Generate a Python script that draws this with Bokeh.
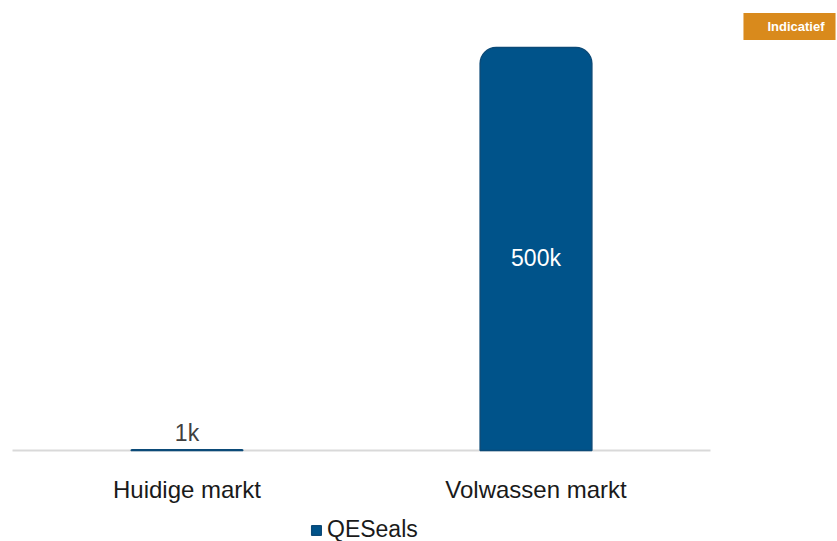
from bokeh.plotting import figure
from bokeh.models import ColumnDataSource, Legend, LegendItem, Label
from bokeh.core.properties import value
from bokeh.embed import file_html
from bokeh.resources import INLINE

categories = ["Huidige markt", "Volwassen markt"]
values = [1000, 500000]
value_labels = ["1k", "500k"]
series_name = "QESeals"
badge_text = "Indicatief"

BAR = "#00538a"
FONT = "Liberation Sans"
W, H = 837, 541
vmax = max(values)
n = len(categories)

# layout (pixels)
left_px, cat_px = 12, 349          # plot area starts at x=12, each category slot 349 px
base_px, top_px = 450, 47          # baseline and top of the largest bar (from top)
ppu = (base_px - top_px) / vmax    # pixels per unit

xs = [i + 0.5 for i in range(n)]
inside = [v > 0.1 * vmax for v in values]
label_y = [v / 2 if ins else v for v, ins in zip(values, inside)]
label_color = ["#ffffff" if ins else "#404040" for ins in inside]
label_off = [9 if ins else -17 for ins in inside]

src = ColumnDataSource(dict(x=xs, cat=categories, val=values, ly=label_y, lt=value_labels,
                            lc=label_color, lo=label_off, base=[0] * n))

p = figure(width=W, height=H,
           x_range=(-left_px / cat_px, (W - left_px) / cat_px),
           y_range=(-(H - base_px) / ppu, base_px / ppu),
           output_backend="svg", toolbar_location=None,
           min_border=0, min_border_left=0, min_border_right=0,
           min_border_top=0, min_border_bottom=0)
p.axis.visible = False
p.outline_line_color = None
p.xgrid.grid_line_color = None
p.ygrid.grid_line_color = None
p.background_fill_color = "white"
p.border_fill_color = "white"

# category axis baseline
p.segment(x0=[0], x1=[n], y0=[0], y1=[0], line_color="#d9d9d9", line_width=2)

r = p.vbar(x="x", top="val", width=0.32, source=src, fill_color=BAR,
           line_color="#0b4a78", line_width=1.5, border_radius=(16, 16, 0, 0))

# value labels
p.text(x="x", y="ly", text="lt", source=src, text_color="lc", text_align="center",
       text_baseline="alphabetic", y_offset="lo", text_font=value(FONT),
       text_font_size="23px")

# category labels
p.text(x="x", y="base", text="cat", source=src, text_color="#1a1a1a", text_align="center",
       text_baseline="alphabetic", y_offset=39, text_font=value(FONT),
       text_font_size="24px")

legend = Legend(items=[LegendItem(label=series_name, renderers=[r])],
                location=(310, -2), orientation="horizontal",
                label_text_font=FONT, label_text_font_size="23px",
                label_text_color="#1a1a1a", glyph_width=12, glyph_height=12,
                label_standoff=5, padding=0, margin=0, border_line_color=None,
                background_fill_alpha=0)
p.add_layout(legend, "center")

badge = Label(x=789, y=H - 26, x_units="screen", y_units="screen", text=badge_text,
              text_color="white", text_font=FONT, text_font_style="bold",
              text_font_size="13px", text_align="center", text_baseline="middle",
              background_fill_color="#d98a1c",
              padding=dict(left=24, right=11, top=6, bottom=6))
p.add_layout(badge)

open("out.html", "w").write(file_html(p, INLINE))
